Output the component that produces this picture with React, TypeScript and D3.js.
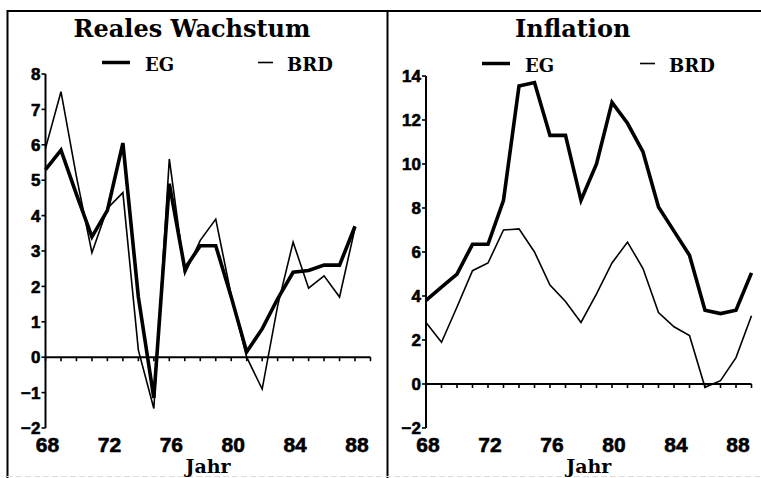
import React from "react";
import * as d3 from "d3";

// ---- data ----
const growthYears = [1968, 1969, 1970, 1971, 1972, 1973, 1974, 1975, 1976, 1977, 1978, 1979, 1980, 1981, 1982, 1983, 1984, 1985, 1986, 1987, 1988];
const growthEG = [5.3, 5.85, 4.6, 3.4, 4.15, 6.05, 1.7, -1.15, 4.9, 2.5, 3.15, 3.15, 1.7, 0.15, 0.8, 1.65, 2.4, 2.45, 2.6, 2.6, 3.7];
const growthBRD = [5.9, 7.5, 5.1, 2.95, 4.2, 4.65, 0.2, -1.45, 5.6, 2.35, 3.3, 3.9, 1.75, 0.0, -0.9, 1.45, 3.25, 1.95, 2.3, 1.7, 3.65];

const inflYears = [1968, 1969, 1970, 1971, 1972, 1973, 1974, 1975, 1976, 1977, 1978, 1979, 1980, 1981, 1982, 1983, 1984, 1985, 1986, 1987, 1988, 1989];
const inflEG = [3.8, 4.4, 5.0, 6.35, 6.35, 8.35, 13.55, 13.7, 11.3, 11.3, 8.35, 10.0, 12.8, 11.85, 10.55, 8.05, 6.95, 5.85, 3.35, 3.2, 3.35, 5.05];
const inflBRD = [2.8, 1.9, 3.5, 5.15, 5.5, 7.0, 7.05, 6.0, 4.5, 3.75, 2.8, 4.1, 5.5, 6.45, 5.25, 3.25, 2.6, 2.2, -0.15, 0.15, 1.2, 3.1];

const xTickLabels = [1968, 1972, 1976, 1980, 1984, 1988];
const growthYTicks = [-2, -1, 0, 1, 2, 3, 4, 5, 6, 7, 8];
const inflYTicks = [-2, 0, 2, 4, 6, 8, 10, 12, 14];

const seriesNames = ["EG", "BRD"];
const panelTitles = ["Reales Wachstum", "Inflation"];
const xAxisTitle = "Jahr";

const SERIF = "DejaVu Serif, serif";
const SANS = "Liberation Sans, Arial, sans-serif";

type PanelProps = {
  title: string;
  years: number[];
  eg: number[];
  brd: number[];
  yTicks: number[];
  x0: number;
  x1: number;
  yDomain: [number, number];
  yTop: number;
  legend: { egX: number; brdX: number; y: number };
};

function Panel({ title, years, eg, brd, yTicks, x0, x1, yDomain, yTop, legend }: PanelProps) {
  const x = d3.scaleLinear().domain([1968, 1989]).range([x0, x1]);
  const y = d3.scaleLinear().domain(yDomain).range([428, yTop]);
  const line = d3
    .line<number>()
    .x((_, i) => x(years[i]))
    .y((d) => y(d));
  const allYears = d3.range(1968, 1990);
  const cx = (x0 + x1) / 2;
  return (
    <g>
      <text x={cx - 16} y={37} textAnchor="middle" fontFamily={SERIF} fontWeight="bold" fontSize={24}>
        {title}
      </text>
      {/* legend */}
      <line x1={legend.egX} x2={legend.egX + 28} y1={legend.y - 8} y2={legend.y - 8} stroke="#000" strokeWidth={3.5} />
      <text x={legend.egX + 43} y={legend.y} fontFamily={SERIF} fontWeight="bold" fontSize={18}>
        {seriesNames[0]}
      </text>
      <line x1={legend.brdX} x2={legend.brdX + 15} y1={legend.y - 8} y2={legend.y - 8} stroke="#000" strokeWidth={1.6} />
      <text x={legend.brdX + 29} y={legend.y} fontFamily={SERIF} fontWeight="bold" fontSize={18}>
        {seriesNames[1]}
      </text>
      {/* y axis */}
      <line x1={x0} x2={x0} y1={y(yDomain[1])} y2={y(yDomain[0])} stroke="#000" strokeWidth={2} />
      {yTicks.map((t) => (
        <g key={t}>
          <line x1={x0 - 4} x2={x0} y1={y(t)} y2={y(t)} stroke="#000" strokeWidth={1.6} />
          <text
            x={x0 - 5}
            y={y(t)}
            dy="0.36em"
            textAnchor="end"
            fontFamily={SANS}
            fontWeight="bold"
            fontSize={17}
            stroke="#000"
            strokeWidth={0.6}
          >
            {t < 0 ? "\u2212" + Math.abs(t) : t}
          </text>
        </g>
      ))}
      {/* zero line with yearly ticks */}
      <line x1={x0} x2={x(1989)} y1={y(0)} y2={y(0)} stroke="#000" strokeWidth={2} />
      {allYears.map((yr) => (
        <line key={yr} x1={x(yr)} x2={x(yr)} y1={y(0)} y2={y(0) + 4} stroke="#000" strokeWidth={1.6} />
      ))}
      {xTickLabels.map((yr) => (
        <text
          key={yr}
          x={x(yr) + 2}
          y={452}
          textAnchor="middle"
          fontFamily={SANS}
          fontWeight="bold"
          fontSize={21}
          stroke="#000"
          strokeWidth={0.6}
        >
          {String(yr).slice(2)}
        </text>
      ))}
      <text x={(x0 + x(1989)) / 2} y={473} textAnchor="middle" fontFamily={SERIF} fontWeight="bold" fontSize={19}>
        {xAxisTitle}
      </text>
      {/* series */}
      <path d={line(brd) || ""} fill="none" stroke="#000" strokeWidth={1.6} strokeLinejoin="miter" />
      <path d={line(eg) || ""} fill="none" stroke="#000" strokeWidth={3.6} strokeLinejoin="miter" />
    </g>
  );
}

export default function App() {
  return (
    <svg
      width={761}
      height={478}
      style={{ position: "absolute", left: 0, top: 0, background: "#fff" }}
    >
      <rect x={0} y={0} width={761} height={478} fill="#fff" />
      {/* frame */}
      <line x1={7} x2={761} y1={11} y2={11} stroke="#000" strokeWidth={2} />
      <line x1={7.5} x2={7.5} y1={10} y2={478} stroke="#000" strokeWidth={2} />
      <line x1={387.5} x2={387.5} y1={10} y2={478} stroke="#000" strokeWidth={2} />
      <line x1={7} x2={761} y1={476.5} y2={476.5} stroke="#ddd" strokeWidth={1} strokeDasharray="6 3" />
      <Panel
        title={panelTitles[0]}
        years={growthYears}
        eg={growthEG}
        brd={growthBRD}
        yTicks={growthYTicks}
        x0={45.5}
        x1={370.5}
        yDomain={[-2, 8]}
        yTop={74}
        legend={{ egX: 102, brdX: 258, y: 70.5 }}
      />
      <Panel
        title={panelTitles[1]}
        years={inflYears}
        eg={inflEG}
        brd={inflBRD}
        yTicks={inflYTicks}
        x0={426}
        x1={751.5}
        yDomain={[-2, 14]}
        yTop={76}
        legend={{ egX: 482, brdX: 640, y: 71.5 }}
      />
    </svg>
  );
}
